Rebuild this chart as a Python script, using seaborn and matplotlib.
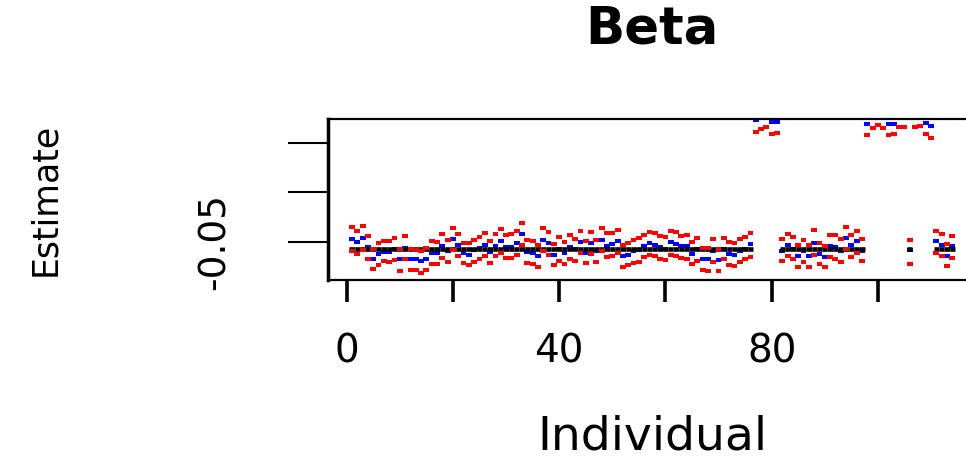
import matplotlib
matplotlib.use("Agg")
import matplotlib.pyplot as plt
import pandas as pd
import seaborn as sns

# values (individual 1..114)
individual = list(range(1, 115))

true_beta = [
    -0.057, -0.057, -0.057, -0.057, -0.057, -0.057, -0.057, -0.057, -0.057, -0.057,
    -0.057, -0.057, -0.057, -0.057, -0.057, -0.057, -0.057, -0.057, -0.057, -0.057,
    -0.057, -0.057, -0.057, -0.057, -0.057, -0.057, -0.057, -0.057, -0.057, -0.057,
    -0.057, -0.057, -0.057, -0.057, -0.057, -0.057, -0.057, -0.057, -0.057, -0.057,
    -0.057, -0.057, -0.057, -0.057, -0.057, -0.057, -0.057, -0.057, -0.057, -0.057,
    -0.057, -0.057, -0.057, -0.057, -0.057, -0.057, -0.057, -0.057, -0.057, -0.057,
    -0.057, -0.057, -0.057, -0.057, -0.057, -0.057, -0.057, -0.057, -0.057, -0.057,
    -0.057, -0.057, -0.057, -0.057, -0.057, -0.057, 0.08, 0.08, 0.08, 0.08,
    0.08, -0.057, -0.057, -0.057, -0.057, -0.057, -0.057, -0.057, -0.057, -0.057,
    -0.057, -0.057, -0.057, -0.057, -0.057, -0.057, -0.057, 0.08, 0.08, 0.08,
    0.08, 0.08, 0.08, 0.08, 0.08, -0.057, 0.08, 0.08, 0.08, 0.08,
    -0.057, -0.057, -0.057, -0.057,
]

estimate = [
    -0.047, -0.050, -0.046, -0.055, -0.067, -0.062, -0.060, -0.060, -0.057, -0.068,
    -0.056, -0.067, -0.068, -0.070, -0.068, -0.061, -0.061, -0.054, -0.059, -0.047,
    -0.053, -0.061, -0.063, -0.058, -0.056, -0.053, -0.060, -0.054, -0.049, -0.055,
    -0.055, -0.051, -0.042, -0.060, -0.061, -0.064, -0.048, -0.051, -0.063, -0.057,
    -0.061, -0.055, -0.057, -0.050, -0.061, -0.051, -0.059, -0.048, -0.054, -0.052,
    -0.049, -0.064, -0.063, -0.059, -0.058, -0.054, -0.051, -0.053, -0.055, -0.057,
    -0.050, -0.052, -0.054, -0.054, -0.062, -0.057, -0.068, -0.068, -0.059, -0.069,
    -0.057, -0.062, -0.063, -0.059, -0.057, -0.052, 0.0726, 0.078, 0.080, 0.071,
    0.071, -0.059, -0.053, -0.057, -0.064, -0.059, -0.064, -0.051, -0.062, -0.065,
    -0.054, -0.055, -0.059, -0.046, -0.053, -0.049, -0.059, 0.069, 0.077, 0.080,
    0.077, 0.069, 0.069, 0.078, 0.078, -0.058, 0.078, 0.079, 0.070, 0.067,
    -0.049, -0.053, -0.064, -0.054,
]

lower = [
    -0.059, -0.062, -0.058, -0.067, -0.078, -0.074, -0.070, -0.071, -0.069, -0.080,
    -0.067, -0.079, -0.079, -0.082, -0.079, -0.073, -0.073, -0.066, -0.071, -0.058,
    -0.064, -0.072, -0.074, -0.071, -0.067, -0.064, -0.072, -0.064, -0.061, -0.066,
    -0.066, -0.063, -0.053, -0.072, -0.073, -0.076, -0.059, -0.063, -0.074, -0.070,
    -0.073, -0.067, -0.070, -0.061, -0.072, -0.062, -0.071, -0.059, -0.065, -0.064,
    -0.061, -0.076, -0.074, -0.072, -0.071, -0.065, -0.063, -0.064, -0.068, -0.069,
    -0.063, -0.064, -0.066, -0.067, -0.073, -0.070, -0.079, -0.080, -0.071, -0.080,
    -0.068, -0.074, -0.075, -0.071, -0.068, -0.065, 0.061, 0.064, 0.066, 0.059,
    0.060, -0.070, -0.064, -0.068, -0.076, -0.071, -0.076, -0.063, -0.073, -0.076,
    -0.065, -0.067, -0.071, -0.057, -0.065, -0.061, -0.070, 0.058, 0.065, 0.068,
    0.065, 0.058, 0.059, 0.066, 0.066, -0.073, 0.066, 0.067, 0.059, 0.055,
    -0.061, -0.064, -0.075, -0.066,
]

upper = [
    -0.035, -0.039, -0.034, -0.044, -0.057, -0.051, -0.049, -0.049, -0.046, -0.057,
    -0.044, -0.057, -0.058, -0.059, -0.056, -0.049, -0.050, -0.042, -0.048, -0.036,
    -0.042, -0.051, -0.051, -0.048, -0.045, -0.041, -0.049, -0.042, -0.037, -0.043,
    -0.042, -0.039, -0.031, -0.048, -0.049, -0.053, -0.036, -0.040, -0.052, -0.045,
    -0.050, -0.043, -0.047, -0.039, -0.049, -0.040, -0.048, -0.036, -0.041, -0.041,
    -0.038, -0.053, -0.051, -0.048, -0.046, -0.043, -0.040, -0.041, -0.044, -0.045,
    -0.039, -0.040, -0.044, -0.043, -0.050, -0.046, -0.056, -0.056, -0.047, -0.057,
    -0.046, -0.050, -0.051, -0.047, -0.045, -0.041, 0.085, 0.090, 0.092, 0.083,
    0.083, -0.047, -0.042, -0.045, -0.053, -0.048, -0.053, -0.038, -0.051, -0.054,
    -0.043, -0.043, -0.047, -0.035, -0.043, -0.039, -0.047, 0.081, 0.089, 0.092,
    0.089, 0.081, 0.082, 0.090, 0.090, -0.048, 0.090, 0.091, 0.082, 0.079,
    -0.039, -0.042, -0.052, -0.044,
]

xtick_pos = [0, 20, 40, 60, 80, 100]
xtick_labels = ["0", "", "40", "", "80", ""]
ytick_pos = [-0.05, 0.0, 0.05]
ytick_labels = ["-0.05", "", ""]

df = pd.DataFrame({"individual": individual, "true": true_beta,
                   "estimate": estimate, "lower": lower, "upper": upper})

sns.set_theme(style="white", rc={"text.color": "black", "axes.labelcolor": "black",
                                 "xtick.color": "black", "ytick.color": "black",
                                 "axes.edgecolor": "black"})
plt.rcParams["font.family"] = ["DejaVu Sans"]

fig = plt.figure(figsize=(9.66, 4.59), dpi=100)
ax = fig.add_axes([328 / 966, 179.5 / 459, 648.3 / 966, 160.5 / 459])

# estimate, then true value over it, then interval bounds on top
ax.hlines(df["estimate"], df["individual"] - 0.55, df["individual"] + 0.55,
          color="blue", linewidth=2.9)
ax.hlines(df["true"], df["individual"] - 0.5, df["individual"] + 0.5,
          color="black", linewidth=3.3)
for col in ["lower", "upper"]:
    ax.hlines(df[col], df["individual"] - 0.55, df["individual"] + 0.55,
              color="red", linewidth=2.9)

ax.set_xlim(-3.52, 118.52)
ax.set_ylim(-0.0882, 0.0739)

ax.set_xticks(xtick_pos)
ax.set_xticklabels(xtick_labels, fontsize=28)
ax.set_yticks(ytick_pos)
ax.set_yticklabels(ytick_labels, rotation=90, va="center", fontsize=27)
ax.tick_params(axis="x", direction="out", length=16, width=2.6, pad=22,
               bottom=True)
ax.tick_params(axis="y", direction="out", length=28.8, width=1.5, pad=40,
               left=True)

for side in ["top", "bottom"]:
    ax.spines[side].set_linewidth(1.6)
ax.spines["left"].set_linewidth(2.5)
ax.spines["right"].set_visible(False)

ax.set_title("Beta", fontsize=37, fontweight="bold", y=1.505, va="center")
ax.set_xlabel("Individual", fontsize=34, va="center")
ax.xaxis.set_label_coords(0.5, -0.98)
ax.set_ylabel("Estimate", fontsize=25, va="center")
ax.yaxis.set_label_coords(-0.4365, 0.5)

fig.savefig("out.png", dpi=100)
